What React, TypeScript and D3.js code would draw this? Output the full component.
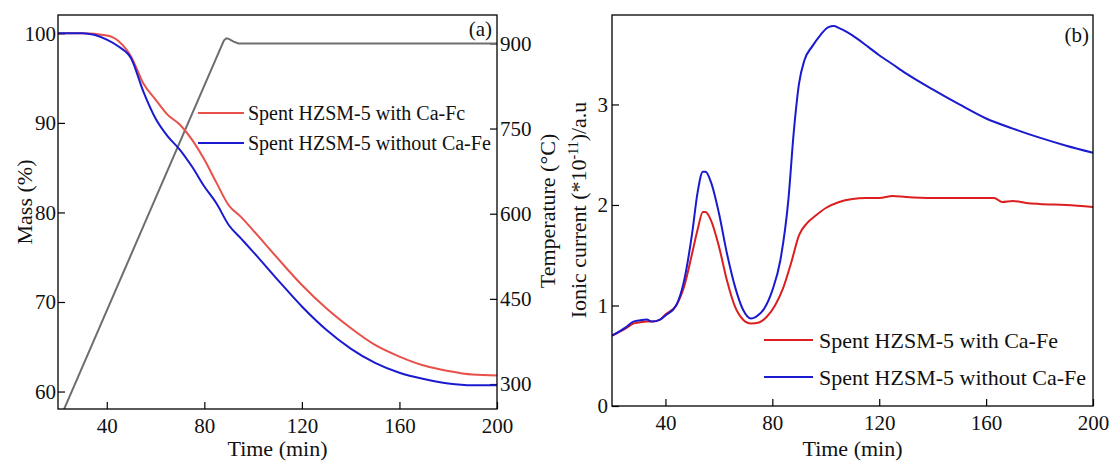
import React, { useRef, useEffect } from 'react';
import * as d3 from 'd3';

// Panel (a): TGA mass loss (%) vs time (min)
const massTime = [20, 30, 40, 45, 50, 55, 60, 65, 70, 75, 80, 85, 90, 95, 100, 110, 120, 130, 140, 150, 160, 170, 180, 190, 200];
const massWithCaFe = [100, 100, 99.75, 99.1, 97.4, 94.4, 92.6, 90.9, 89.8, 88.1, 85.9, 83.3, 80.8, 79.5, 78.0, 74.9, 71.9, 69.3, 67.1, 65.2, 63.9, 62.9, 62.3, 61.9, 61.8];
const massWithoutCaFe = [100, 100, 99.3, 98.5, 97.2, 93.5, 90.5, 88.5, 87.0, 85.1, 82.9, 81.0, 78.6, 77.1, 75.6, 72.5, 69.5, 66.9, 64.8, 63.2, 62.1, 61.4, 60.9, 60.7, 60.7];

// Temperature program
const tempTime = [20, 88, 89, 90, 92, 94, 200];
const tempValues = [231, 905, 909, 908, 903, 900, 900];

// Panel (b): ionic current (*10^-11) vs time (min)
const ionTime = [20, 25, 28, 30, 33, 35, 38, 40, 44, 47, 50, 52, 54, 55, 57, 60, 63, 66, 69, 72, 75, 78, 81, 84, 87, 90, 93, 96, 100, 105, 110, 115, 120, 125, 130, 140, 145, 150, 160, 163, 166, 170, 175, 180, 190, 200];
const ionWithCaFe = [0.70, 0.77, 0.82, 0.83, 0.84, 0.84, 0.86, 0.91, 1.0, 1.19, 1.52, 1.75, 1.93, 1.93, 1.85, 1.59, 1.25, 0.99, 0.86, 0.82, 0.83, 0.89, 1.0, 1.17, 1.42, 1.70, 1.82, 1.89, 1.97, 2.03, 2.06, 2.07, 2.07, 2.09, 2.08, 2.07, 2.07, 2.07, 2.07, 2.07, 2.03, 2.04, 2.02, 2.01, 2.0, 1.98];
const ionTimeB = [20, 25, 28, 30, 33, 35, 38, 40, 44, 47, 50, 52, 54, 55, 57, 60, 63, 66, 69, 72, 74, 77, 80, 83, 86, 88, 90, 92, 95, 98, 101, 103, 105, 108, 112, 116, 120, 125, 130, 140, 150, 160, 170, 180, 190, 200];
const ionWithoutCaFe = [0.70, 0.78, 0.84, 0.85, 0.86, 0.84, 0.86, 0.90, 1.0, 1.25, 1.72, 2.12, 2.33, 2.33, 2.23, 1.92, 1.52, 1.19, 0.96, 0.87, 0.89, 0.97, 1.15, 1.45, 2.05, 2.72, 3.21, 3.44, 3.58, 3.69, 3.77, 3.78, 3.76, 3.72, 3.65, 3.57, 3.49, 3.40, 3.31, 3.15, 3.0, 2.86, 2.76, 2.67, 2.59, 2.52];

const timeTicks = [40, 80, 120, 160, 200];
const massTicks = [60, 70, 80, 90, 100];
const tempTicks = [300, 450, 600, 750, 900];
const ionTicks = [0, 1, 2, 3];

const legendA = ['Spent HZSM-5 with Ca-Fc', 'Spent HZSM-5 without Ca-Fe'];
const legendB = ['Spent HZSM-5 with Ca-Fe', 'Spent HZSM-5 without Ca-Fe'];

const FONT = 'Liberation Serif, DejaVu Serif, serif';

const App = () => {
  const ref = useRef<SVGSVGElement>(null);

  useEffect(() => {
    if (!ref.current) return;
    const svg = d3.select(ref.current);
    svg.selectAll('*').remove();
    svg.append('rect').attr('width', 1113).attr('height', 463).attr('fill', 'white');

    const txt = (sel: any, size: number) =>
      sel.style('font-family', FONT).style('font-size', `${size}px`).attr('fill', '#111');

    const styleAxis = (g: any, size: number) => {
      g.attr('font-family', null).attr('font-size', null);
      g.select('.domain').remove();
      g.selectAll('line').attr('stroke', '#000').attr('stroke-width', 1.2);
      txt(g.selectAll('text'), size);
    };

    // ---------- Panel (a) ----------
    const a = { left: 58, right: 497, top: 15, bottom: 409 };
    const xA = d3.scaleLinear().domain([20, 200]).range([a.left, a.right]);
    const yMass = d3.scaleLinear().domain([58.05, 102.05]).range([a.bottom, a.top]);
    const yTemp = d3.scaleLinear().domain([256, 950]).range([a.bottom, a.top]);

    const gA = svg.append('g');
    gA.append('clipPath').attr('id', 'clipA')
      .append('rect').attr('x', a.left).attr('y', a.top).attr('width', a.right - a.left).attr('height', a.bottom - a.top);

    gA.append('g').attr('transform', `translate(0,${a.bottom})`)
      .call(d3.axisBottom(xA).tickValues(timeTicks).tickSizeInner(-7).tickSizeOuter(0).tickPadding(9))
      .call((g: any) => styleAxis(g, 21));
    gA.append('g').attr('transform', `translate(${a.left},0)`)
      .call(d3.axisLeft(yMass).tickValues(massTicks).tickSizeInner(-7).tickSizeOuter(0).tickPadding(2))
      .call((g: any) => styleAxis(g, 21));
    gA.append('g').attr('transform', `translate(${a.right},0)`)
      .call(d3.axisRight(yTemp).tickValues(tempTicks).tickSizeInner(-7).tickSizeOuter(0).tickPadding(3))
      .call((g: any) => styleAxis(g, 21));

    const lineA = (xs: number[], ys: number[], yScale: any, curve: any) =>
      d3.line<number>().x((_, i) => xA(xs[i])).y((d) => yScale(d)).curve(curve)(ys);

    const plotA = gA.append('g').attr('clip-path', 'url(#clipA)');
    plotA.append('path').attr('d', lineA(tempTime, tempValues, yTemp, d3.curveLinear)!)
      .attr('fill', 'none').attr('stroke', '#6e6e6e').attr('stroke-width', 2);
    plotA.append('path').attr('d', lineA(massTime, massWithCaFe, yMass, d3.curveMonotoneX)!)
      .attr('fill', 'none').attr('stroke', '#e8504a').attr('stroke-width', 2);
    plotA.append('path').attr('d', lineA(massTime, massWithoutCaFe, yMass, d3.curveMonotoneX)!)
      .attr('fill', 'none').attr('stroke', '#1a1ad0').attr('stroke-width', 2);

    gA.append('rect').attr('x', a.left).attr('y', a.top).attr('width', a.right - a.left).attr('height', a.bottom - a.top)
      .attr('fill', 'none').attr('stroke', '#000').attr('stroke-width', 1.3);

    const legA = gA.append('g');
    ['#e8504a', '#1a1ad0'].forEach((c, i) => {
      const y = 113 + i * 30;
      legA.append('line').attr('x1', 198).attr('x2', 244).attr('y1', y).attr('y2', y).attr('stroke', c).attr('stroke-width', 2);
      txt(legA.append('text').attr('x', 248).attr('y', y + 7), 20).text(legendA[i]);
    });

    txt(gA.append('text').attr('x', 492).attr('y', 36).attr('text-anchor', 'end'), 21).text('(a)');
    txt(gA.append('text').attr('x', (a.left + a.right) / 2).attr('y', 456).attr('text-anchor', 'middle'), 22).text('Time (min)');
    txt(gA.append('text').attr('transform', `translate(32,${(a.top + a.bottom) / 2 - 10}) rotate(-90)`).attr('text-anchor', 'middle'), 22).text('Mass (%)');
    txt(gA.append('text').attr('transform', `translate(555,211) rotate(-90)`).attr('text-anchor', 'middle'), 22).text('Temperature (°C)');

    // ---------- Panel (b) ----------
    const b = { left: 612, right: 1093, top: 15, bottom: 406 };
    const xB = d3.scaleLinear().domain([20, 200]).range([b.left, b.right]);
    const yIon = d3.scaleLinear().domain([0, 3.89]).range([b.bottom, b.top]);

    const gB = svg.append('g');
    gB.append('clipPath').attr('id', 'clipB')
      .append('rect').attr('x', b.left).attr('y', b.top).attr('width', b.right - b.left).attr('height', b.bottom - b.top);

    gB.append('g').attr('transform', `translate(0,${b.bottom})`)
      .call(d3.axisBottom(xB).tickValues(timeTicks).tickSizeInner(-7).tickSizeOuter(0).tickPadding(9))
      .call((g: any) => styleAxis(g, 21));
    gB.append('g').attr('transform', `translate(${b.left},0)`)
      .call(d3.axisLeft(yIon).tickValues(ionTicks).tickFormat(d3.format('d')).tickSizeInner(-7).tickSizeOuter(0).tickPadding(4))
      .call((g: any) => styleAxis(g, 21));

    const lineB = (xs: number[], ys: number[]) =>
      d3.line<number>().x((_, i) => xB(xs[i])).y((d) => yIon(d)).curve(d3.curveMonotoneX)(ys);

    const plotB = gB.append('g').attr('clip-path', 'url(#clipB)');
    plotB.append('path').attr('d', lineB(ionTime, ionWithCaFe)!)
      .attr('fill', 'none').attr('stroke', '#dc1e1e').attr('stroke-width', 2);
    plotB.append('path').attr('d', lineB(ionTimeB, ionWithoutCaFe)!)
      .attr('fill', 'none').attr('stroke', '#1a1ad0').attr('stroke-width', 2);

    gB.append('rect').attr('x', b.left).attr('y', b.top).attr('width', b.right - b.left).attr('height', b.bottom - b.top)
      .attr('fill', 'none').attr('stroke', '#000').attr('stroke-width', 1.3);

    const legB = gB.append('g');
    ['#dc1e1e', '#1a1ad0'].forEach((c, i) => {
      const y = 340 + i * 37;
      legB.append('line').attr('x1', 764).attr('x2', 813).attr('y1', y).attr('y2', y).attr('stroke', c).attr('stroke-width', 2);
      txt(legB.append('text').attr('x', 819).attr('y', y + 8), 22).text(legendB[i]);
    });

    txt(gB.append('text').attr('x', 1089).attr('y', 42).attr('text-anchor', 'end'), 21).text('(b)');
    txt(gB.append('text').attr('x', (b.left + b.right) / 2).attr('y', 456).attr('text-anchor', 'middle'), 22).text('Time (min)');

    const yl = txt(gB.append('text').attr('transform', `translate(586,210) rotate(-90)`).attr('text-anchor', 'middle'), 22);
    yl.append('tspan').text('Ionic current (*10');
    yl.append('tspan').attr('dy', -8).style('font-size', '14px').text('-11');
    yl.append('tspan').attr('dy', 8).text(')/a.u');
  }, []);

  return (
    <svg
      ref={ref}
      width={1113}
      height={463}
      style={{ position: 'absolute', left: 0, top: 0, display: 'block' }}
    />
  );
};

export default App;
